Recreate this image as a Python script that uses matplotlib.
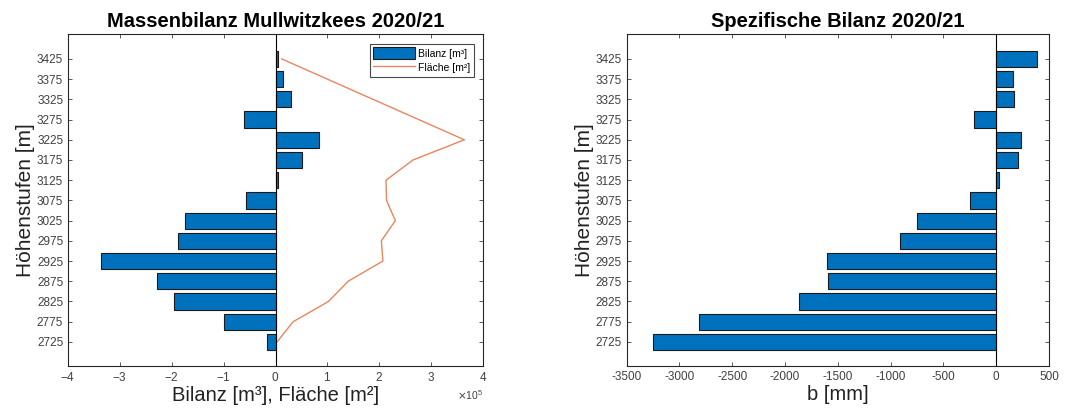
import matplotlib
matplotlib.use('Agg')
import matplotlib.pyplot as plt
from matplotlib.ticker import ScalarFormatter

plt.rcParams['font.family'] = ['Liberation Sans', 'DejaVu Sans']
plt.rcParams['axes.unicode_minus'] = False

# Höhenstufen
hoehen = [2725, 2775, 2825, 2875, 2925, 2975, 3025, 3075,
          3125, 3175, 3225, 3275, 3325, 3375, 3425]

# Massenbilanz je Stufe [m³]
bilanz = [-0.155e5, -1.00e5, -1.96e5, -2.28e5, -3.36e5, -1.875e5, -1.74e5, -0.56e5,
          0.04e5, 0.52e5, 0.84e5, -0.61e5, 0.30e5, 0.15e5, 0.04e5]

# Fläche je Stufe [m²]
flaeche = [0.03e5, 0.34e5, 1.02e5, 1.40e5, 2.07e5, 2.04e5, 2.31e5, 2.14e5,
           2.13e5, 2.65e5, 3.64e5, 2.76e5, 1.88e5, 1.00e5, 0.12e5]

# spezifische Bilanz [mm]
spez = [-3249, -2816, -1869, -1591, -1607, -912, -755, -249,
        22, 208, 234, -215, 170, 161, 382]

blau = (0, 0.447, 0.741)
orange = '#e8865e'
grau = '#404040'

fig = plt.figure(figsize=(10.7, 4.18), dpi=100)
ax1 = fig.add_axes([0.0636, 0.125, 0.3878, 0.793])
ax2 = fig.add_axes([0.5857, 0.125, 0.3947, 0.793])

# linkes Diagramm
balken = ax1.barh(hoehen, bilanz, height=40, color=blau, edgecolor='#1a1a1a',
                  linewidth=0.8, label='Bilanz [m³]', zorder=2)
linie, = ax1.plot(flaeche, hoehen, color=orange, linewidth=1.0, label='Fläche [m²]', zorder=3)
ax1.axvline(0, color='k', linewidth=0.8, zorder=4)
ax1.set_xlim(-4e5, 4e5)
ax1.set_xticks([i * 1e5 for i in range(-4, 5)])
fmt = ScalarFormatter(useMathText=True)
fmt.set_powerlimits((0, 0))
ax1.xaxis.set_major_formatter(fmt)
ax1.set_title('Massenbilanz Mullwitzkees 2020/21', fontsize=14.5, fontweight='bold', pad=5)
ax1.set_xlabel('Bilanz [m³], Fläche [m²]', fontsize=14.5, color='#222222', labelpad=2)
ax1.set_ylabel('Höhenstufen [m]', fontsize=15, color='#222222', labelpad=1)
leg = ax1.legend([balken, linie], ['Bilanz [m³]', 'Fläche [m²]'],
                 loc='upper right', fontsize=7.5, handlelength=4.0, handleheight=1.5,
                 fancybox=False, edgecolor='#1a1a1a', borderpad=0.3,
                 labelspacing=0.15, handletextpad=0.3, borderaxespad=0.9)
leg.get_frame().set_linewidth(0.8)

# rechtes Diagramm
ax2.barh(hoehen, spez, height=40, color=blau, edgecolor='#1a1a1a',
         linewidth=0.8, zorder=2)
ax2.axvline(0, color='k', linewidth=0.8, zorder=4)
ax2.set_xlim(-3500, 500)
ax2.set_xticks(range(-3500, 501, 500))
ax2.set_title('Spezifische Bilanz 2020/21', fontsize=14.5, fontweight='bold', pad=5)
ax2.set_xlabel('b [mm]', fontsize=14.5, color='#222222', labelpad=2)
ax2.set_ylabel('Höhenstufen [m]', fontsize=15, color='#222222', labelpad=1)

for ax in (ax1, ax2):
    ax.set_ylim(2666, 3486)
    ax.set_yticks(hoehen)
    ax.tick_params(direction='in', top=True, right=True, labelsize=8.5,
                   colors=grau, length=3, width=0.6)
    ax.xaxis.get_offset_text().set_fontsize(7.5)
    ax.xaxis.get_offset_text().set_color(grau)
    for s in ax.spines.values():
        s.set_color('#262626')
        s.set_linewidth(0.8)

fig.savefig('out.png', dpi=100)
